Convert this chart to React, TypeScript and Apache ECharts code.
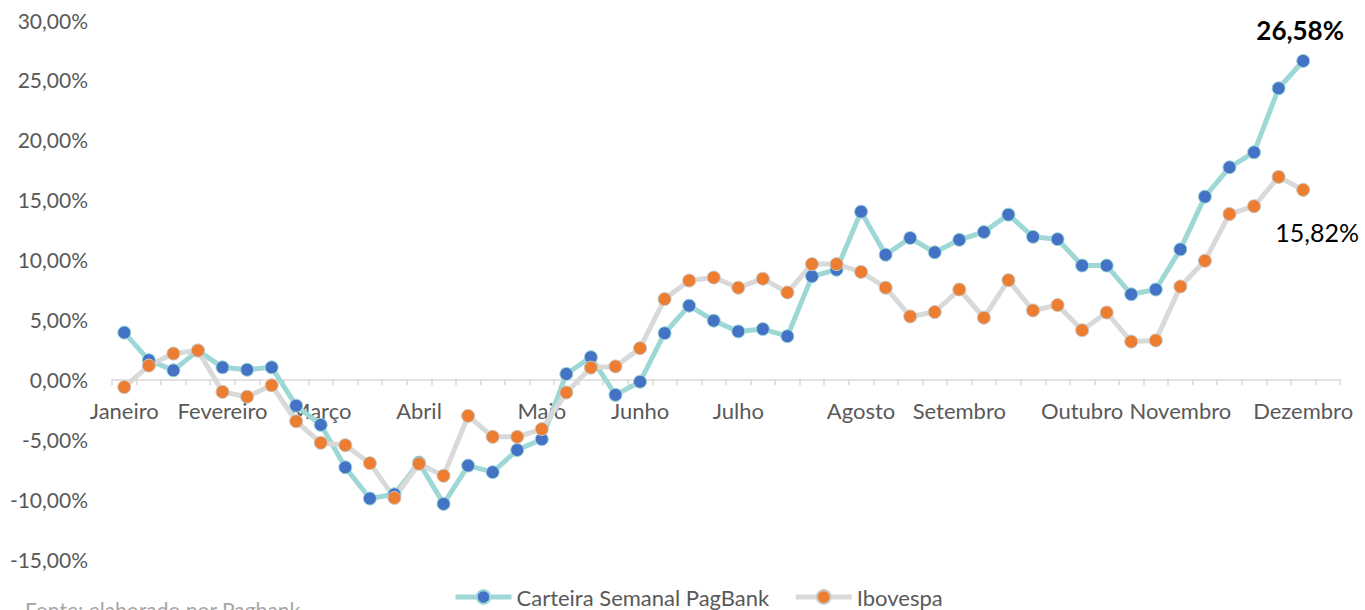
import React, { useEffect, useRef } from "react";
import * as echarts from "echarts";

const weeks: string[] = [
  "Janeiro", "", "", "", "Fevereiro", "", "", "", "Março", "", "", "", "Abril", "", "", "", "", "Maio", "", "", "", "Junho", "", "", "", "Julho", "", "", "", "", "Agosto", "", "", "", "Setembro", "", "", "", "", "Outubro", "", "", "", "Novembro", "", "", "", "", "Dezembro", "",
];

const carteira: number[] = [
  3.9, 1.6, 0.75, 2.4, 1.0, 0.8, 1.0, -2.2, -3.8, -7.35, -9.95, -9.6, -6.95, -10.4,
  -7.2, -7.75, -5.9, -5.0, 0.45, 1.85, -1.3, -0.2, 3.85, 6.15, 4.9, 4.0, 4.2, 3.6,
  8.6, 9.15, 14.0, 10.4, 11.8, 10.6, 11.65, 12.3, 13.75, 11.9, 11.7, 9.5, 9.5, 7.1,
  7.5, 10.85, 15.25, 17.7, 18.95, 24.3, 26.58,
];

const ibovespa: number[] = [
  -0.65, 1.15, 2.15, 2.4, -1.05, -1.45, -0.5, -3.5, -5.3, -5.5, -7.0, -9.9, -7.05, -8.05,
  -3.05, -4.8, -4.8, -4.15, -1.1, 0.98, 1.08, 2.6, 6.7, 8.25, 8.5, 7.65, 8.4, 7.25,
  9.62, 9.62, 8.97, 7.65, 5.25, 5.62, 7.5, 5.15, 8.28, 5.75, 6.2, 4.1, 5.58, 3.15,
  3.25, 7.75, 9.9, 13.8, 14.45, 16.9, 15.82,
];

const seriesNames: string[] = ["Carteira Semanal PagBank", "Ibovespa"];

const Y_MIN = -15;
const Y_MAX = 30;

const fmt = (v: number) => v.toFixed(2).replace(".", ",") + "%";

export default function App() {
  const ref = useRef<HTMLDivElement>(null);
  useEffect(() => {
    if (!ref.current) return;
    const chart = echarts.init(ref.current, null, { renderer: "svg" });
    const font = "Lato, 'Noto Sans', sans-serif";
    const lastC = carteira.length - 1;
    const lastI = ibovespa.length - 1;
    const gridTop = 20;
    const gridBottom = 51;
    const plotH = 610 - gridTop - gridBottom;
    const zeroOffset = -(plotH * (0 - Y_MIN)) / (Y_MAX - Y_MIN);
    chart.setOption({
      animation: false,
      textStyle: { fontFamily: font },
      grid: { left: 112, right: 25, top: gridTop, bottom: gridBottom, containLabel: false },
      legend: {
        left: 448,
        top: 581,
        itemWidth: 56,
        itemHeight: 17,
        itemGap: 24,
        lineStyle: { width: 5 },
        textStyle: { fontFamily: font, fontSize: 22, color: "#595959" },
        data: seriesNames,
      },
      graphic: [
        {
          type: "text",
          left: 25,
          top: 599,
          style: { text: "Fonte: elaborado por Pagbank", fontFamily: font, fontSize: 21, fill: "#a6a6a6" },
        },
      ],
      xAxis: {
        type: "category",
        data: weeks,
        boundaryGap: true,
        position: "bottom",
        offset: zeroOffset,
        axisLine: { onZero: false, lineStyle: { color: "#d9d9d9", width: 1.5 } },
        axisTick: { show: true, interval: 0, length: 6, lineStyle: { color: "#d9d9d9", width: 1.5 } },
        axisLabel: { interval: 0, margin: 20, fontSize: 22, color: "#595959", fontFamily: font },
        splitLine: { show: false },
      },
      yAxis: {
        type: "value",
        min: Y_MIN,
        max: Y_MAX,
        interval: 5,
        axisLine: { show: false },
        axisTick: { show: false },
        splitLine: { show: false },
        axisLabel: { margin: 24, fontSize: 21, color: "#595959", fontFamily: font, formatter: (v: number) => fmt(v) },
      },
      series: [
        {
          name: seriesNames[0],
          type: "line",
          symbol: "circle",
          symbolSize: 13,
          lineStyle: { color: "#9ed8d6", width: 5 },
          itemStyle: { color: "#4472c4", borderColor: "#9ed8d6", borderWidth: 1 },
          data: carteira.map((v, i) =>
            i === lastC
              ? {
                  value: v,
                  label: {
                    show: true,
                    position: "top",
                    distance: 11,
                    offset: [-3, 0],
                    formatter: () => fmt(v),
                    fontSize: 26,
                    fontWeight: "bold",
                    color: "#000000",
                    fontFamily: font,
                  },
                }
              : v
          ),
        },
        {
          name: seriesNames[1],
          type: "line",
          symbol: "circle",
          symbolSize: 13,
          lineStyle: { color: "#d9d9d9", width: 5 },
          itemStyle: { color: "#ed7d31", borderColor: "#c8c8c8", borderWidth: 1 },
          data: ibovespa.map((v, i) =>
            i === lastI
              ? {
                  value: v,
                  label: {
                    show: true,
                    position: "bottom",
                    distance: 23,
                    offset: [14, 0],
                    formatter: () => fmt(v),
                    fontSize: 25,
                    color: "#000000",
                    fontFamily: font,
                  },
                }
              : v
          ),
        },
      ],
    });
    return () => chart.dispose();
  }, []);
  return (
    <div
      ref={ref}
      style={{ position: "absolute", left: 0, top: 0, width: 1365, height: 610 }}
    />
  );
}
